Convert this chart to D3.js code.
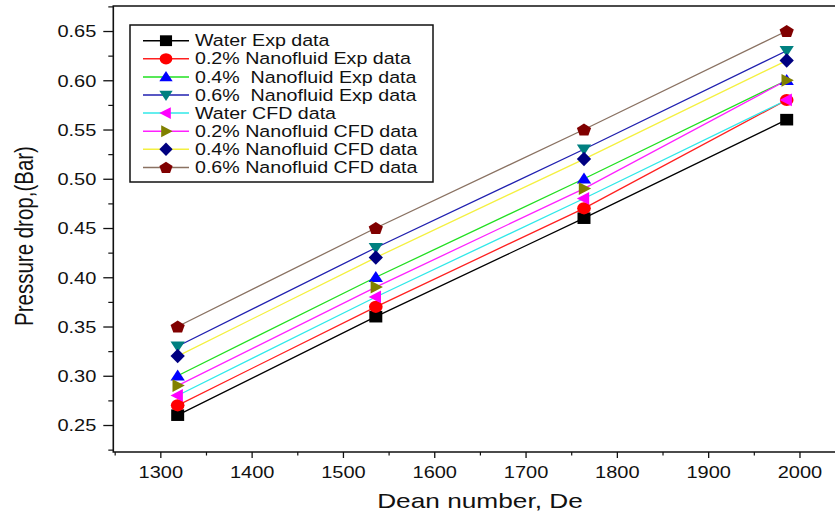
<!DOCTYPE html>
<html>
<head>
<meta charset="utf-8">
<script src="https://cdn.jsdelivr.net/npm/d3@7"></script>
<style>
  body { margin: 0; background: #fff; }
  text { font-family: "Liberation Sans", Arial, Helvetica, sans-serif; fill: #111; white-space: pre; }
</style>
</head>
<body>
<svg id="chart" width="835" height="516"></svg>
<script>
// Dean number at which each run was measured / simulated
const deanNumbers = [1319, 1536, 1764, 1986];

// Pressure drop (bar) for each fluid
const waterExp   = [0.26, 0.36, 0.46, 0.56];
const nano02Exp  = [0.27, 0.37, 0.47, 0.58];
const nano04Exp  = [0.30, 0.40, 0.50, 0.60];
const nano06Exp  = [0.33, 0.43, 0.53, 0.63];
const waterCfd   = [0.28, 0.38, 0.48, 0.58];
const nano02Cfd  = [0.29, 0.39, 0.49, 0.60];
const nano04Cfd  = [0.32, 0.42, 0.52, 0.62];
const nano06Cfd  = [0.35, 0.45, 0.55, 0.65];

const seriesLabels = [
  "Water Exp data",
  "0.2% Nanofluid Exp data",
  "0.4%  Nanofluid Exp data",
  "0.6%  Nanofluid Exp data",
  "Water CFD data",
  "0.2% Nanofluid CFD data",
  "0.4% Nanofluid CFD data",
  "0.6% Nanofluid CFD data"
];
const seriesValues = [waterExp, nano02Exp, nano04Exp, nano06Exp, waterCfd, nano02Cfd, nano04Cfd, nano06Cfd];

const xTicks = [1300, 1400, 1500, 1600, 1700, 1800, 1900, 2000];
const xMinorTicks = [1250, 1350, 1450, 1550, 1650, 1750, 1850, 1950];
const yTicks = [0.25, 0.30, 0.35, 0.40, 0.45, 0.50, 0.55, 0.60, 0.65];
const yMinorTicks = [0.225, 0.275, 0.325, 0.375, 0.425, 0.475, 0.525, 0.575, 0.625, 0.675];

// Styling per series: line colour, marker shape, marker fill
const lineColors   = ["#000000", "#ff2020", "#20e020", "#2020b0", "#30e8e8", "#ff20ff", "#f4f040", "#8a7262"];
const markerColors = ["#000000", "#ff0000", "#0000ff", "#008080", "#ff00ff", "#808000", "#000080", "#800000"];
const markerShapes = ["square", "circle", "up", "down", "left", "right", "diamond", "pentagon"];

const sx = 1.25; // horizontal widening of glyphs

const svg = d3.select("#chart");
const plotLeft = 113.3, plotRight = 836, plotTop = 6, plotBottom = 452;

const x = d3.scaleLinear().domain([1248.5, 2040]).range([plotLeft, plotRight]);
const y = d3.scaleLinear().domain([0.2226, 0.6754]).range([plotBottom, plotTop]);

function shapePath(kind, r) {
  const p = d3.path();
  switch (kind) {
    case "square":
      p.rect(-r, -r, 2 * r, 2 * r); break;
    case "circle":
      p.arc(0, 0, r * 1.05, 0, 2 * Math.PI); break;
    case "up":
      p.moveTo(0, -r * 1.1); p.lineTo(r * 1.1, r * 0.8); p.lineTo(-r * 1.1, r * 0.8); p.closePath(); break;
    case "down":
      p.moveTo(0, r * 1.1); p.lineTo(r * 1.1, -r * 0.8); p.lineTo(-r * 1.1, -r * 0.8); p.closePath(); break;
    case "left":
      p.moveTo(-r * 1.1, 0); p.lineTo(r * 0.8, -r * 1.1); p.lineTo(r * 0.8, r * 1.1); p.closePath(); break;
    case "right":
      p.moveTo(r * 1.1, 0); p.lineTo(-r * 0.8, -r * 1.1); p.lineTo(-r * 0.8, r * 1.1); p.closePath(); break;
    case "diamond":
      p.moveTo(0, -r * 1.25); p.lineTo(r * 1.1, 0); p.lineTo(0, r * 1.25); p.lineTo(-r * 1.1, 0); p.closePath(); break;
    case "pentagon":
      for (let k = 0; k < 5; k++) {
        const a = -Math.PI / 2 + k * 2 * Math.PI / 5;
        const px = Math.cos(a) * r * 1.15, py = Math.sin(a) * r * 1.15 + r * 0.1;
        if (k === 0) p.moveTo(px, py); else p.lineTo(px, py);
      }
      p.closePath(); break;
  }
  return p.toString();
}

// Axes -----------------------------------------------------------------
const xAxis = svg.append("g").attr("transform", `translate(0,${plotBottom})`)
  .call(d3.axisBottom(x).tickValues(xTicks).tickSize(6).tickPadding(0).tickFormat(d3.format("d")));
xAxis.select(".domain").remove();
xAxis.selectAll("line").attr("stroke", "#111").attr("stroke-width", 1.3);
xAxis.selectAll("text").attr("y", 15).attr("dy", "0.71em")
  .attr("transform", `scale(${sx},1)`).style("font-size", "16px");

const xMinor = svg.append("g").attr("transform", `translate(0,${plotBottom})`)
  .call(d3.axisBottom(x).tickValues(xMinorTicks).tickSize(3.5).tickFormat(""));
xMinor.select(".domain").remove();
xMinor.selectAll("line").attr("stroke", "#111").attr("stroke-width", 1.2);

const yAxis = svg.append("g").attr("transform", `translate(${plotLeft},0)`)
  .call(d3.axisLeft(y).tickValues(yTicks).tickSize(10).tickFormat(d3.format(".2f")));
yAxis.select(".domain").remove();
yAxis.selectAll("line").attr("stroke", "#111").attr("stroke-width", 1.3);
yAxis.selectAll("text").attr("x", -17 / sx).attr("dy", "0.36em")
  .attr("transform", `scale(${sx},1)`).style("font-size", "16px");

const yMinor = svg.append("g").attr("transform", `translate(${plotLeft},0)`)
  .call(d3.axisLeft(y).tickValues(yMinorTicks).tickSize(5).tickFormat(""));
yMinor.select(".domain").remove();
yMinor.selectAll("line").attr("stroke", "#111").attr("stroke-width", 1.2);

// Frame
svg.append("path")
  .attr("d", `M${plotRight},${plotTop}H${plotLeft}V${plotBottom}H${plotRight}`)
  .attr("fill", "none").attr("stroke", "#111").attr("stroke-width", 1.6);

// Axis titles
svg.append("text")
  .attr("transform", `translate(480,508) scale(${sx},1)`)
  .attr("text-anchor", "middle").style("font-size", "21px")
  .text("Dean number, De");
svg.append("text")
  .attr("transform", `translate(33,236) scale(${sx},1) rotate(-90)`)
  .attr("text-anchor", "middle").style("font-size", "20.5px")
  .text("Pressure drop,(Bar)");

// Series lines and markers ---------------------------------------------
const line = d3.line().x((d, i) => x(deanNumbers[i])).y(d => y(d));
const plot = svg.append("g");
seriesValues.forEach((vals, s) => {
  plot.append("path").datum(vals)
    .attr("d", line).attr("fill", "none")
    .attr("stroke", lineColors[s]).attr("stroke-width", 1.3);
});
seriesValues.forEach((vals, s) => {
  plot.selectAll(null).data(vals).enter().append("path")
    .attr("transform", (d, i) => `translate(${x(deanNumbers[i])},${y(d)}) scale(1.12,1)`)
    .attr("d", shapePath(markerShapes[s], 5.8))
    .attr("fill", markerColors[s]);
});

// Legend ------------------------------------------------------------------
const legend = svg.append("g");
legend.append("rect")
  .attr("x", 130).attr("y", 25).attr("width", 303).attr("height", 157)
  .attr("fill", "#fff").attr("stroke", "#111").attr("stroke-width", 1.5);
seriesLabels.forEach((label, s) => {
  const cy = 40.7 + 18.1 * s;
  legend.append("line").attr("x1", 143).attr("x2", 189).attr("y1", cy).attr("y2", cy)
    .attr("stroke", lineColors[s]).attr("stroke-width", 1.5);
  legend.append("path")
    .attr("transform", `translate(166,${cy}) scale(1.12,1)`)
    .attr("d", shapePath(markerShapes[s], 5.4))
    .attr("fill", markerColors[s]);
  legend.append("text")
    .attr("xml:space", "preserve")
    .attr("transform", `translate(195,${cy + 5.6}) scale(${sx},1)`)
    .style("font-size", "15.7px")
    .text(label);
});
</script>
</body>
</html>
